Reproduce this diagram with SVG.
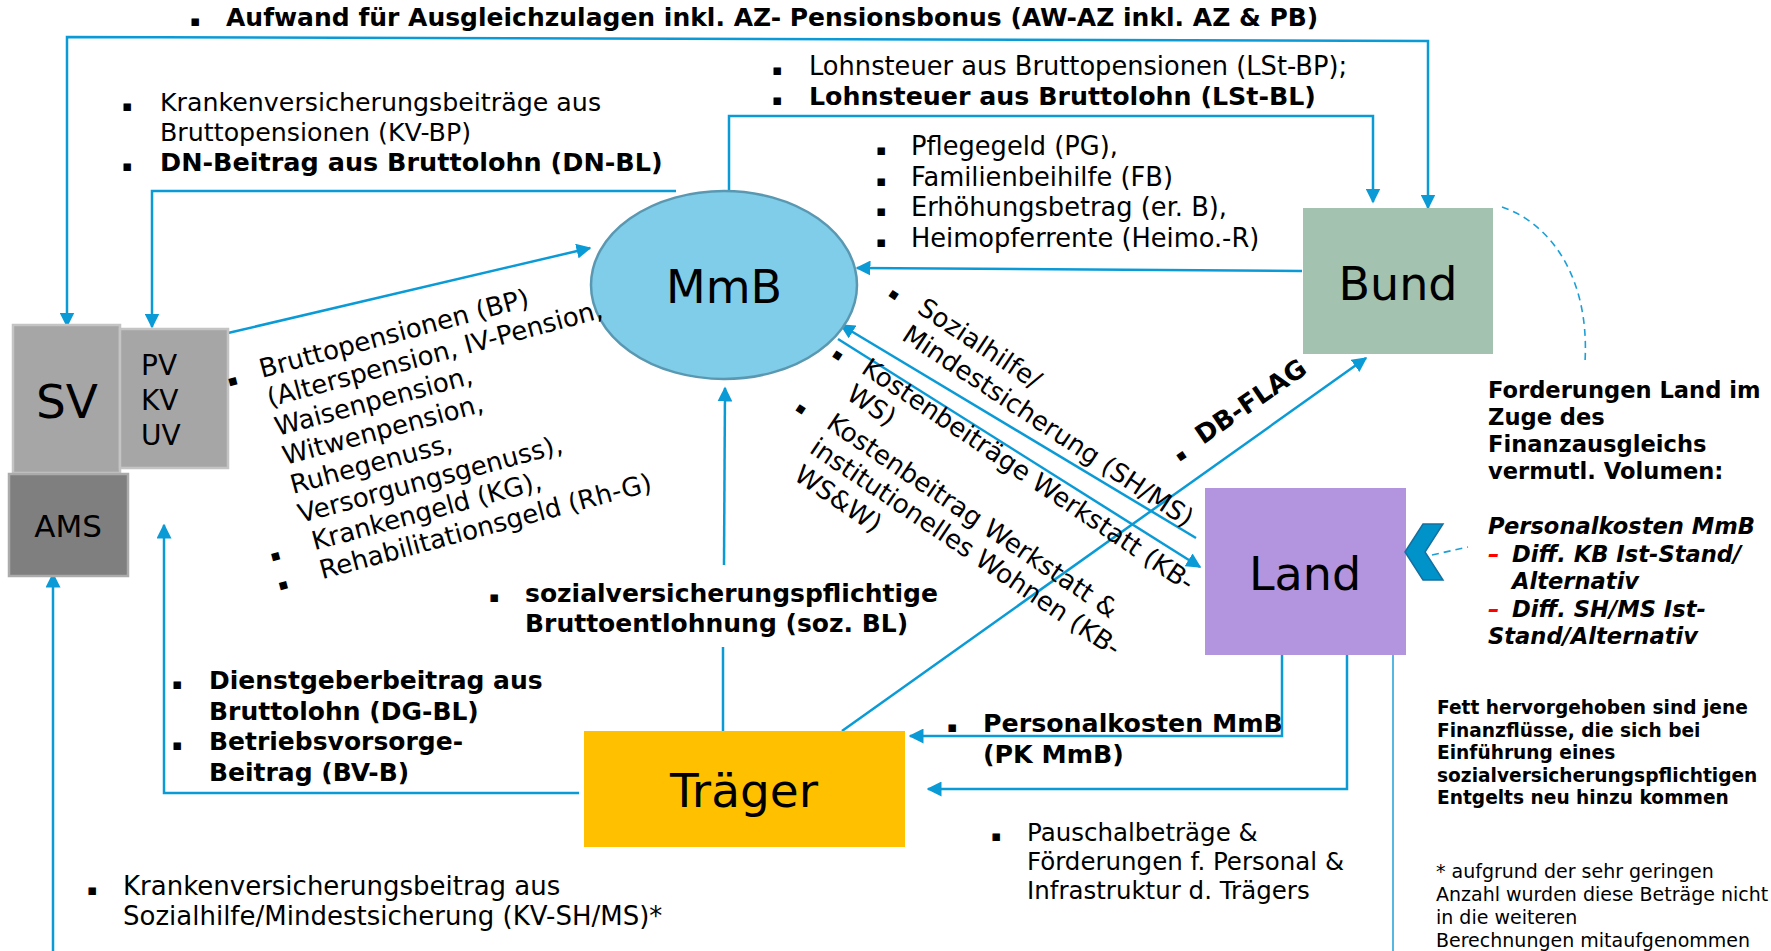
<svg xmlns="http://www.w3.org/2000/svg" width="1771" height="951" viewBox="0 0 1771 951">
<style>
.t{font-family:'DejaVu Sans',Verdana,sans-serif;font-size:25px;fill:#000}
.b{font-weight:bold}
.bi{font-weight:bold;font-style:italic}
.bul{font-family:'DejaVu Sans',sans-serif;font-size:15px;text-anchor:middle;fill:#000}
.big{font-family:'DejaVu Sans',Verdana,sans-serif;fill:#000;text-anchor:middle}
.r{font-size:26px}
.fo{font-size:22.6px}
.fe{font-size:18.6px}
.au{font-size:19px}
.c{fill:none;stroke:#0a9bd7;stroke-width:2.5}
.thin{fill:none;stroke:#1ea0d8;stroke-width:1.5}
.dash{fill:none;stroke:#1a9fd8;stroke-width:1.6;stroke-dasharray:7 5}
</style>
<defs>
<marker id="ah" viewBox="0 0 10 10" refX="9" refY="5" markerWidth="15" markerHeight="15" markerUnits="userSpaceOnUse" orient="auto-start-reverse">
<path d="M0,0 L10,5 L0,10 z" fill="#0a9bd7"/>
</marker>
</defs>
<rect width="1771" height="951" fill="#fff"/>

<g id="connectors">
<path class="c" d="M67,326 L67,37 L1428,41 L1428,208" marker-start="url(#ah)" marker-end="url(#ah)"/>
<path class="c" d="M729,190 L729,116 L1373,116 L1373,202" marker-end="url(#ah)"/>
<path class="c" d="M676,191 L152,191 L152,327" marker-end="url(#ah)"/>
<path class="c" d="M228,333 L590,248" marker-end="url(#ah)"/>
<path class="c" d="M1302,271 L857,268" marker-end="url(#ah)"/>
<path class="c" d="M1196,538 L841,325" marker-end="url(#ah)"/>
<path class="c" d="M838,339 L1200,567" marker-end="url(#ah)"/>
<path class="c" d="M723,731 L723,647"/>
<path class="c" d="M724,565 L725,388" marker-end="url(#ah)"/>
<path class="c" d="M842,731 L1366,358" marker-end="url(#ah)"/>
<path class="c" d="M579,793 L164,793 L164,525" marker-end="url(#ah)"/>
<path class="c" d="M53,951 L53,574" marker-end="url(#ah)"/>
<path class="c" d="M1282,655 L1282,736 L910,736" marker-end="url(#ah)"/>
<path class="c" d="M1347,655 L1347,789 L928,789" marker-end="url(#ah)"/>
<path class="thin" d="M1393,647 L1393,951"/>
<path class="dash" d="M1502,207 C1548,222 1590,275 1585,362"/>
<path class="dash" d="M1432,555 L1468,547"/>
</g>

<g id="node-sv">
<rect x="13" y="325" width="107" height="148" fill="#a6a6a6" stroke="#c4c4c4" stroke-width="2.5"/>
<text class="big" x="67" y="418" font-size="47">SV</text>
</g>
<g id="node-pvkvuv">
<rect x="120" y="329" width="108" height="139" fill="#a6a6a6" stroke="#c4c4c4" stroke-width="2.5"/>
<text class="t" x="141" y="375" style="font-size:28px">PV</text>
<text class="t" x="141" y="410" style="font-size:28px">KV</text>
<text class="t" x="141" y="445" style="font-size:28px">UV</text>
</g>
<g id="node-ams">
<rect x="9" y="474" width="119" height="102" fill="#7f7f7f" stroke="#ababab" stroke-width="2.5"/>
<text class="big" x="68" y="537" font-size="31">AMS</text>
</g>
<g id="node-mmb">
<ellipse cx="724" cy="285" rx="133" ry="94" fill="#7fcde8" stroke="#5a98b2" stroke-width="2.5"/>
<text class="big" x="724" y="303" font-size="46">MmB</text>
</g>
<g id="node-bund">
<rect x="1303" y="208" width="190" height="146" fill="#a3c2b0"/>
<text class="big" x="1398" y="300" font-size="46">Bund</text>
</g>
<g id="node-land">
<rect x="1205" y="488" width="201" height="167" fill="#b394de"/>
<text class="big" x="1305" y="590" font-size="46">Land</text>
</g>
<g id="node-traeger">
<rect x="584" y="731" width="321" height="116" fill="#ffc000"/>
<text class="big" x="744" y="807" font-size="47">Träger</text>
</g>
<g id="chevron">
<polygon points="1405,552 1423,524 1443,524 1425,552 1443,580 1423,580" fill="#0093c9" stroke="#1470a0" stroke-width="1.5"/>
</g>

<g id="labels">
<text class="bul" x="195" y="26">▪</text>
<text class="t b" x="226" y="26">Aufwand für Ausgleichzulagen inkl. AZ- Pensionsbonus (AW-AZ inkl. AZ &amp; PB)</text>

<g style="font-size:25.4px">
<text class="bul" x="127" y="111">▪</text>
<text class="t" x="160" y="111" style="font-size:25.3px">Krankenversicherungsbeiträge aus</text>
<text class="t" x="160" y="141" style="font-size:25.3px">Bruttopensionen (KV-BP)</text>
<text class="bul" x="127" y="171">▪</text>
<text class="t b" x="160" y="171" style="font-size:25.5px">DN-Beitrag aus Bruttolohn (DN-BL)</text>
</g>

<text class="bul" x="777" y="75">▪</text>
<text class="t" x="809" y="75" style="font-size:25.7px">Lohnsteuer aus Bruttopensionen (LSt-BP);</text>
<text class="bul" x="777" y="105">▪</text>
<text class="t b" x="809" y="105" style="font-size:25.3px">Lohnsteuer aus Bruttolohn (LSt-BL)</text>

<text class="bul" x="881" y="155">▪</text>
<text class="t" x="911" y="155" style="font-size:25.7px">Pflegegeld (PG),</text>
<text class="bul" x="881" y="185.5">▪</text>
<text class="t" x="911" y="185.5" style="font-size:25.7px">Familienbeihilfe (FB)</text>
<text class="bul" x="881" y="216">▪</text>
<text class="t" x="911" y="216" style="font-size:25.7px">Erhöhungsbetrag (er. B),</text>
<text class="bul" x="881" y="246.5">▪</text>
<text class="t" x="911" y="246.5" style="font-size:25.7px">Heimopferrente (Heimo.-R)</text>

<g transform="translate(262,378) rotate(-15)">
<text class="bul" x="-29" y="0">▪</text>
<text class="t r" x="0" y="0">Bruttopensionen (BP)</text>
<text class="t r" x="0" y="30">(Alterspension, IV-Pension,</text>
<text class="t r" x="0" y="60">Waisenpension,</text>
<text class="t r" x="0" y="90">Witwenpension,</text>
<text class="t r" x="0" y="120">Ruhegenuss,</text>
<text class="t r" x="0" y="150">Versorgungsgenuss),</text>
<text class="bul" x="-33" y="180">▪</text>
<text class="t r" x="6" y="180">Krankengeld (KG),</text>
<text class="bul" x="-33" y="210">▪</text>
<text class="t r" x="6" y="210">Rehabilitationsgeld (Rh-G)</text>
</g>

<g transform="translate(916,312) rotate(33.5)">
<text class="bul" x="-28" y="2">▪</text>
<text class="t r" x="0" y="0">Sozialhilfe/</text>
<text class="t r" x="2" y="31">Mindestsicherung (SH/MS)</text>
</g>
<g transform="translate(860,372) rotate(34)">
<text class="bul" x="-28" y="3">▪</text>
<text class="t r" x="0" y="0">Kostenbeiträge Werkstatt (KB-</text>
<text class="t r" x="2" y="30">WS)</text>
</g>
<g transform="translate(825,427) rotate(34)">
<text class="bul" x="-30" y="3">▪</text>
<text class="t r" x="0" y="0">Kostenbeitrag Werkstatt &amp;</text>
<text class="t r" x="0" y="30">institutionelles Wohnen (KB-</text>
<text class="t r" x="2" y="61">WS&amp;W)</text>
</g>
<g transform="translate(1203,445) rotate(-34.5)">
<text class="bul" x="-24" y="1">▪</text>
<text class="t b r" x="0" y="0">DB-FLAG</text>
</g>

<text class="bul" x="494" y="602">▪</text>
<text class="t b" x="525" y="602">sozialversicherungspflichtige</text>
<text class="t b" x="525" y="632">Bruttoentlohnung (soz. BL)</text>

<text class="bul" x="177" y="689">▪</text>
<text class="t b" x="209" y="689">Dienstgeberbeitrag aus</text>
<text class="t b" x="209" y="719.5">Bruttolohn (DG-BL)</text>
<text class="bul" x="177" y="750">▪</text>
<text class="t b" x="209" y="750">Betriebsvorsorge-</text>
<text class="t b" x="209" y="780.5">Beitrag (BV-B)</text>

<text class="bul" x="92" y="895">▪</text>
<text class="t" x="123" y="895" style="font-size:26px">Krankenversicherungsbeitrag aus</text>
<text class="t" x="123" y="925" style="font-size:26px">Sozialhilfe/Mindestsicherung (KV-SH/MS)*</text>

<text class="bul" x="952" y="732">▪</text>
<text class="t b" x="983" y="732" style="font-size:25.3px">Personalkosten MmB</text>
<text class="t b" x="983" y="763" style="font-size:25.3px">(PK MmB)</text>

<text class="bul" x="996" y="841">▪</text>
<text class="t" x="1027" y="841" style="font-size:24.5px">Pauschalbeträge &amp;</text>
<text class="t" x="1027" y="870" style="font-size:24.5px">Förderungen f. Personal &amp;</text>
<text class="t" x="1027" y="899" style="font-size:24.5px">Infrastruktur d. Trägers</text>

<text class="t b fo" x="1488" y="398">Forderungen Land im</text>
<text class="t b fo" x="1488" y="425">Zuge des</text>
<text class="t b fo" x="1488" y="452">Finanzausgleichs</text>
<text class="t b fo" x="1488" y="479">vermutl. Volumen:</text>
<text class="t bi fo" x="1488" y="534">Personalkosten MmB</text>
<text class="t bi fo" x="1488" y="561.5"><tspan fill="#ff0000">–</tspan><tspan x="1512">Diff. KB Ist-Stand/</tspan></text>
<text class="t bi fo" x="1512" y="589">Alternativ</text>
<text class="t bi fo" x="1488" y="616.5"><tspan fill="#ff0000">–</tspan><tspan x="1512">Diff. SH/MS Ist-</tspan></text>
<text class="t bi fo" x="1488" y="644">Stand/Alternativ</text>

<text class="t b fe" x="1437" y="714">Fett hervorgehoben sind jene</text>
<text class="t b fe" x="1437" y="736.5">Finanzflüsse, die sich bei</text>
<text class="t b fe" x="1437" y="759">Einführung eines</text>
<text class="t b fe" x="1437" y="781.5">sozialversicherungspflichtigen</text>
<text class="t b fe" x="1437" y="804">Entgelts neu hinzu kommen</text>

<text class="t au" x="1436" y="878">* aufgrund der sehr geringen</text>
<text class="t au" x="1436" y="901">Anzahl wurden diese Beträge nicht</text>
<text class="t au" x="1436" y="924">in die weiteren</text>
<text class="t au" x="1436" y="947">Berechnungen mitaufgenommen</text>
</g>
</svg>
